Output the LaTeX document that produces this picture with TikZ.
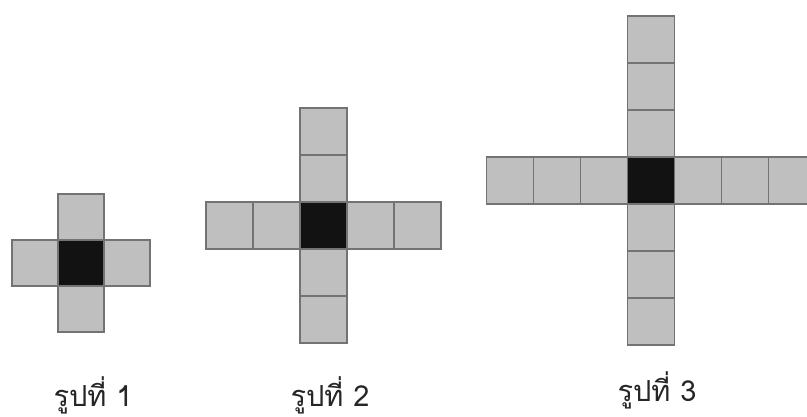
\documentclass[tikz,border=0pt]{standalone}
\usepackage{fontspec}
\newfontfamily\thaifont[Script=Thai]{Loma}
\usepackage{tikz}
\usetikzlibrary{positioning}
\tikzstyle{cell} = [
    rectangle,
    draw=black!55,
    line width=1.6pt,
    fill=black!25,
    minimum size=47pt,
    inner sep=0pt,
    outer sep=0pt
]
\tikzstyle{core} = [
    cell,
    fill=black!93
]
\tikzstyle{caption} = [
    anchor=base,
    text=black!85,
    font=\thaifont\fontsize{29}{34}\selectfont
]

\begin{document}
\begin{tikzpicture}[x=1pt, y=1pt]

\useasboundingbox (0,0) rectangle (807,417);

% figure 1
\node (core1) [core, minimum size=46pt] at (81,154) {};
\foreach \i in {1} {
    \node (up1\i) [cell, minimum size=46pt] at ([yshift=\i*46pt]core1) {};
    \node (down1\i) [cell, minimum size=46pt] at ([yshift=-\i*46pt]core1) {};
    \node (left1\i) [cell, minimum size=46pt] at ([xshift=-\i*46pt]core1) {};
    \node (right1\i) [cell, minimum size=46pt] at ([xshift=\i*46pt]core1) {};
}

% figure 2
\node (core2) [core] at (323.5,191.5) {};
\foreach \i in {1,2} {
    \node (up2\i) [cell] at ([yshift=\i*47pt]core2) {};
    \node (down2\i) [cell] at ([yshift=-\i*47pt]core2) {};
    \node (left2\i) [cell] at ([xshift=-\i*47pt]core2) {};
    \node (right2\i) [cell] at ([xshift=\i*47pt]core2) {};
}

% figure 3
\node (core3) [core] at (651,236.5) {};
\foreach \i in {1,2,3} {
    \node (up3\i) [cell] at ([yshift=\i*47pt]core3) {};
    \node (down3\i) [cell] at ([yshift=-\i*47pt]core3) {};
    \node (left3\i) [cell] at ([xshift=-\i*47pt]core3) {};
    \node (right3\i) [cell] at ([xshift=\i*47pt]core3) {};
}

% captions
\node (cap1) [caption] at (93,10) {รูปที่ 1};
\node (cap2) [caption] at (330,10) {รูปที่ 2};
\node (cap3) [caption] at (657,15) {รูปที่ 3};

\end{tikzpicture}
\end{document}
